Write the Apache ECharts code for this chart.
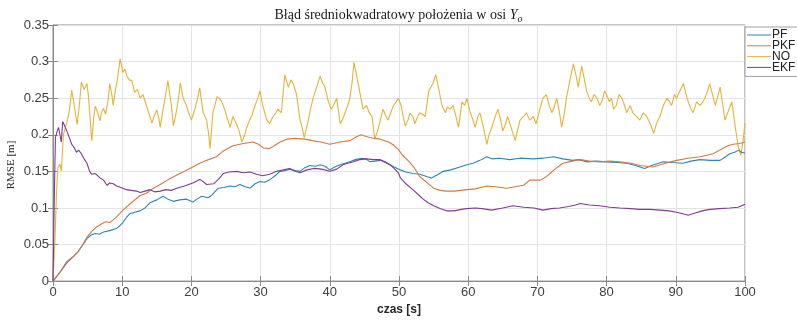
<!DOCTYPE html>
<html>
<head>
<meta charset="utf-8">
<script src="https://cdn.jsdelivr.net/npm/echarts@6/dist/echarts.min.js"></script>
<style>html,body{margin:0;padding:0;background:#fff;}#c{width:797px;height:321px;}</style>
</head>
<body>
<div id="c"></div>
<script>
// ---- data ----
const seriesNames = ['PF', 'PKF', 'NO', 'EKF'];
const xTicks = [0, 10, 20, 30, 40, 50, 60, 70, 80, 90, 100];
const yTicks = [0, 0.05, 0.1, 0.15, 0.2, 0.25, 0.3, 0.35];

const pfT = [0,1,2,3,3.6,4.2,4.9,5.5,6.1,6.7,7.3,8.2,9.2,9.7,10.1,10.6,11.1,11.8,12.6,13.3,14,15,15.9,16.6,17.4,18.3,19.3,20.2,20.8,21.5,22.4,22.9,23.9,24.7,25.6,26.3,27,27.8,28.5,29.2,29.9,30.6,31.4,32.1,32.8,33.5,34.2,35,35.7,36.4,37.1,37.9,38.6,39.3,40,40.7,41.5,42.2,42.9,43.7,44.6,45.2,45.8,46.5,47.3,48,48.7,49.3,50.2,51,52,53,54,54.7,55.5,56.4,57.5,58.8,59.8,60.7,61.7,62.7,63.5,64.5,66,67.5,69.4,70.8,72.3,73.7,75.1,76,77.1,78.5,80,81.5,82.9,84.2,85.5,86.5,88.2,89.5,91,92.2,93.5,95,96.4,97.2,97.8,98.5,99.1,99.5,100];
const pfV = [0,0.012,0.025,0.034,0.04,0.048,0.058,0.063,0.065,0.064,0.067,0.069,0.072,0.076,0.08,0.087,0.092,0.094,0.096,0.1,0.107,0.111,0.116,0.112,0.109,0.111,0.112,0.108,0.112,0.116,0.114,0.117,0.127,0.128,0.13,0.129,0.132,0.129,0.127,0.133,0.136,0.135,0.139,0.144,0.15,0.151,0.153,0.151,0.15,0.155,0.158,0.157,0.159,0.157,0.152,0.156,0.159,0.161,0.163,0.166,0.168,0.167,0.163,0.164,0.165,0.162,0.159,0.156,0.152,0.149,0.147,0.146,0.143,0.141,0.145,0.15,0.152,0.156,0.159,0.161,0.165,0.17,0.167,0.168,0.166,0.168,0.167,0.168,0.17,0.167,0.165,0.166,0.163,0.164,0.163,0.162,0.161,0.158,0.154,0.158,0.163,0.162,0.161,0.164,0.166,0.165,0.165,0.17,0.174,0.176,0.179,0.176,0.175];

const pkfT = [0,1,2,3,3.6,4.3,4.9,5.6,6.3,7,7.6,8.2,9,10.1,11.2,12.6,13.5,14.5,15.5,16.7,17.9,19,20.2,21.2,22.2,23.6,24.5,26,27.5,28.9,29.7,30.4,31.2,31.8,32.8,33.8,35,36.4,37.5,38.7,40,41.5,42.9,43.8,44.5,45.5,46.5,47.3,48.5,49.2,49.9,50.5,51.5,52.2,53,54,55,55.9,56.9,58,59.8,61,62.7,64,65.6,66.8,68,68.9,70.4,71.2,71.8,72.8,73.7,75,76.2,77.5,79,80.5,81.9,83.5,84.8,86.7,88.5,90.1,91.8,93.5,95.4,96.5,97.5,98.3,99.2,100];
const pkfV = [0,0.012,0.027,0.034,0.04,0.05,0.06,0.068,0.074,0.078,0.081,0.08,0.086,0.097,0.106,0.117,0.12,0.127,0.132,0.139,0.145,0.15,0.156,0.161,0.165,0.17,0.177,0.185,0.188,0.19,0.187,0.182,0.181,0.184,0.19,0.194,0.195,0.194,0.192,0.19,0.187,0.19,0.192,0.197,0.2,0.197,0.195,0.194,0.19,0.186,0.18,0.172,0.163,0.155,0.143,0.135,0.127,0.124,0.123,0.123,0.125,0.126,0.13,0.129,0.127,0.129,0.131,0.138,0.138,0.142,0.147,0.155,0.161,0.164,0.166,0.164,0.163,0.164,0.163,0.161,0.158,0.156,0.161,0.165,0.168,0.17,0.174,0.18,0.185,0.187,0.188,0.19];

const noT = [0,0.3,0.5,0.7,1.0,1.2,1.5,1.8,2.1,2.4,2.7,3.0,3.3,3.5,3.8,4.1,4.5,4.9,5.1,5.3,5.6,5.9,6.1,6.4,6.8,7.0,7.3,7.6,8.0,8.2,8.5,8.7,9.0,9.3,9.7,10.1,10.4,10.7,11.0,11.4,11.8,12.2,12.6,13.0,13.5,13.9,14.3,14.6,15.0,15.3,15.5,15.9,16.2,16.6,17.1,17.4,17.9,18.2,18.4,18.8,19.3,19.6,20.0,20.5,20.9,21.2,21.7,22.2,22.5,22.7,23.1,23.4,23.7,24.0,24.4,24.8,25.1,25.6,26.0,26.5,26.9,27.3,27.7,28.0,28.4,28.7,29.2,29.6,29.9,30.3,30.9,31.3,31.8,32.2,32.5,33.0,33.5,34.0,34.4,34.7,35.2,35.7,36.0,36.3,36.9,37.2,37.6,38.1,38.6,39.0,39.3,39.8,40.2,40.5,41.0,41.5,41.8,42.2,42.6,42.9,43.2,43.5,44.1,44.5,44.8,45.3,45.7,46.1,46.5,46.9,47.3,47.7,48.0,48.4,48.8,49.2,49.6,49.9,50.3,50.6,50.9,51.3,51.6,52.0,52.3,52.7,53.0,53.4,53.8,54.3,54.6,54.9,55.3,55.8,56.2,56.7,57.0,57.4,57.8,58.1,58.6,59.1,59.5,59.8,60.3,60.7,61.0,61.4,61.7,62.2,62.7,63.0,63.4,63.9,64.3,64.7,65.0,65.4,65.7,66.2,66.8,67.1,67.5,68.0,68.4,68.9,69.4,69.8,70.1,70.5,70.8,71.3,71.7,72.1,72.5,72.8,73.2,73.5,73.9,74.2,74.7,75.2,75.6,75.9,76.4,76.8,77.1,77.5,77.8,78.2,78.6,79.0,79.3,79.7,80.0,80.4,80.7,81.0,81.4,81.8,82.2,82.6,82.9,83.4,83.8,84.3,84.8,85.3,85.8,86.3,86.8,87.2,87.7,88.2,88.7,89.1,89.4,89.8,90.1,90.6,91.1,91.5,91.8,92.2,92.5,93.0,93.5,93.9,94.2,94.6,94.9,95.3,95.7,96.0,96.4,96.8,97.1,97.5,98.1,98.6,99.0,99.4,99.7,100];
const noV = [0,0.06,0.12,0.155,0.16,0.15,0.2,0.21,0.22,0.235,0.261,0.245,0.225,0.214,0.24,0.272,0.262,0.27,0.255,0.23,0.192,0.225,0.239,0.232,0.219,0.23,0.236,0.228,0.25,0.27,0.255,0.24,0.26,0.275,0.304,0.285,0.29,0.28,0.275,0.274,0.258,0.262,0.25,0.255,0.24,0.228,0.216,0.225,0.234,0.222,0.21,0.235,0.25,0.274,0.24,0.212,0.235,0.255,0.271,0.25,0.24,0.23,0.22,0.235,0.25,0.264,0.23,0.22,0.2,0.181,0.23,0.24,0.252,0.25,0.245,0.235,0.225,0.21,0.225,0.215,0.205,0.19,0.2,0.21,0.22,0.225,0.24,0.25,0.26,0.24,0.22,0.215,0.225,0.23,0.235,0.23,0.282,0.265,0.275,0.27,0.255,0.22,0.21,0.196,0.22,0.235,0.25,0.265,0.28,0.27,0.265,0.245,0.235,0.24,0.25,0.215,0.22,0.23,0.24,0.25,0.27,0.299,0.27,0.25,0.235,0.24,0.23,0.225,0.194,0.205,0.22,0.235,0.228,0.22,0.23,0.24,0.245,0.25,0.24,0.225,0.212,0.22,0.23,0.225,0.215,0.225,0.23,0.228,0.225,0.26,0.265,0.27,0.282,0.26,0.24,0.23,0.238,0.235,0.24,0.23,0.21,0.245,0.24,0.25,0.23,0.22,0.21,0.225,0.23,0.21,0.187,0.2,0.21,0.225,0.235,0.22,0.205,0.215,0.225,0.21,0.192,0.205,0.22,0.225,0.23,0.22,0.225,0.215,0.225,0.24,0.25,0.255,0.24,0.23,0.24,0.25,0.23,0.21,0.23,0.25,0.275,0.297,0.28,0.265,0.294,0.275,0.26,0.25,0.245,0.255,0.25,0.24,0.245,0.26,0.255,0.245,0.25,0.235,0.24,0.255,0.25,0.24,0.23,0.24,0.23,0.225,0.22,0.23,0.225,0.215,0.202,0.215,0.225,0.24,0.25,0.245,0.24,0.255,0.25,0.26,0.27,0.255,0.245,0.235,0.23,0.245,0.24,0.245,0.25,0.26,0.27,0.255,0.24,0.25,0.265,0.24,0.22,0.23,0.245,0.21,0.185,0.172,0.19,0.216];

const ekfT = [0,0.2,0.35,0.6,0.8,1.0,1.2,1.4,1.7,2.0,2.4,2.7,3.1,3.4,3.7,4.1,4.5,4.9,5.3,5.6,6.1,6.8,7.3,7.8,8.2,8.7,9.2,10.1,10.6,11.3,12.1,12.6,13.3,14,14.7,15.5,16.3,17.1,17.9,19,20.2,21.2,21.7,22.2,23.2,24,24.6,25.5,26.5,27.5,28.5,29.4,30.3,31.3,32.3,33.3,34.2,35,35.7,36.7,37.7,38.8,40,41,41.9,42.6,43.4,44.3,45.3,46.3,47.3,48,48.7,49.3,49.9,50.2,51,52,52.8,53.5,54.2,55,56,56.9,58,59,59.8,61,62,63.4,65,66.5,68,69.5,70.8,72,73.2,74.5,75.5,76.2,77.5,79,80.5,81.9,83.5,84.8,86.3,87.7,89,90.1,91,91.8,92.8,93.8,94.9,96.3,97.8,99,100];
const ekfV = [0,0.12,0.196,0.205,0.21,0.2,0.19,0.218,0.212,0.205,0.195,0.187,0.182,0.176,0.179,0.174,0.167,0.161,0.15,0.146,0.147,0.141,0.138,0.131,0.134,0.133,0.13,0.127,0.125,0.124,0.123,0.121,0.123,0.125,0.122,0.123,0.125,0.124,0.127,0.13,0.134,0.139,0.136,0.132,0.133,0.14,0.147,0.149,0.15,0.148,0.149,0.146,0.144,0.146,0.15,0.152,0.154,0.15,0.148,0.152,0.154,0.153,0.15,0.153,0.159,0.161,0.163,0.166,0.167,0.166,0.166,0.163,0.159,0.154,0.148,0.141,0.133,0.125,0.118,0.112,0.107,0.103,0.099,0.096,0.096,0.098,0.099,0.1,0.099,0.097,0.1,0.103,0.101,0.1,0.097,0.099,0.1,0.102,0.104,0.106,0.104,0.103,0.101,0.1,0.099,0.098,0.098,0.097,0.096,0.094,0.092,0.09,0.093,0.096,0.098,0.099,0.1,0.101,0.105];

const colors = ['#2e85b5', '#d07a45', '#e3b43a', '#7e3d90'];

// ---- chart ----
function pairs(t, v) { return t.map((x, i) => [x, v[i]]); }
const seriesData = [pairs(pfT, pfV), pairs(pkfT, pkfV), pairs(noT, noV), pairs(ekfT, ekfV)];
const drawOrder = [2, 0, 1, 3];

const chart = echarts.init(document.getElementById('c'), null, { renderer: 'canvas' });
const axisCol = '#8a8a8a';
const labelCol = '#404040';
const sans = 'Liberation Sans, Arial, sans-serif';
const serif = 'Liberation Serif, Times New Roman, serif';

chart.setOption({
  animation: false,
  backgroundColor: '#ffffff',
  color: colors,
  grid: { left: 53, right: 52, top: 25, bottom: 34, show: true, borderColor: axisCol, borderWidth: 1, backgroundColor: '#fff' },
  title: {
    text: '{a|Błąd średniokwadratowy położenia w osi }{b|Y}{c|o}',
    left: 'center', top: 2,
    textStyle: {
      fontWeight: 'normal',
      rich: {
        a: { fontFamily: serif, fontSize: 14, fontWeight: 'normal', color: '#1a1a1a' },
        b: { fontFamily: serif, fontSize: 14, fontWeight: 'normal', fontStyle: 'italic', color: '#1a1a1a' },
        c: { fontFamily: serif, fontSize: 10, fontWeight: 'normal', fontStyle: 'italic', color: '#1a1a1a', padding: [7, 0, 0, 0] }
      }
    }
  },
  legend: {
    data: seriesNames,
    orient: 'vertical',
    left: 745, top: 27,
    itemWidth: 24, itemHeight: 10, itemGap: -1.2,
    padding: [2, 6, 3, 2],
    backgroundColor: '#fff',
    borderColor: '#a0a0a0', borderWidth: 1, borderRadius: 0,
    textStyle: { fontFamily: sans, fontSize: 12, color: '#222', padding: [0, 0, 0, -4] },
    icon: 'path://M0,5 L24,5 L24,6 L0,6 Z'
  },
  xAxis: [{
    type: 'value', min: xTicks[0], max: xTicks[xTicks.length - 1], interval: xTicks[1] - xTicks[0],
    position: 'bottom',
    name: 'czas [s]', nameLocation: 'middle', nameGap: 20,
    nameTextStyle: { fontFamily: sans, fontSize: 12, fontWeight: 'bold', color: '#262626' },
    axisLine: { show: true, lineStyle: { color: axisCol } },
    axisTick: { show: true, inside: true, length: 5, lineStyle: { color: axisCol } },
    axisLabel: { fontFamily: sans, fontSize: 13, color: labelCol, margin: 5 },
    splitLine: { show: true, lineStyle: { color: '#e4e4e4', width: 1 } }
  }, {
    type: 'value', min: xTicks[0], max: xTicks[xTicks.length - 1], interval: xTicks[1] - xTicks[0],
    position: 'top',
    axisLine: { show: true, lineStyle: { color: axisCol } },
    axisTick: { show: true, inside: true, length: 5, lineStyle: { color: axisCol } },
    axisLabel: { show: false }, splitLine: { show: false }
  }],
  yAxis: [{
    type: 'value', min: yTicks[0], max: yTicks[yTicks.length - 1], interval: yTicks[1] - yTicks[0],
    position: 'left',
    axisLine: { show: true, lineStyle: { color: axisCol } },
    axisTick: { show: true, inside: true, length: 5, lineStyle: { color: axisCol } },
    axisLabel: { fontFamily: sans, fontSize: 13, color: labelCol, margin: 4,
      formatter: v => String(parseFloat(v.toFixed(2))) },
    splitLine: { show: true, lineStyle: { color: '#e4e4e4', width: 1 } }
  }, {
    type: 'value', min: yTicks[0], max: yTicks[yTicks.length - 1], interval: yTicks[1] - yTicks[0],
    position: 'right',
    axisLine: { show: true, lineStyle: { color: axisCol } },
    axisTick: { show: true, inside: true, length: 5, lineStyle: { color: axisCol } },
    axisLabel: { show: false }, splitLine: { show: false }
  }],
  graphic: [{
    type: 'text', x: 6, y: 165, rotation: Math.PI / 2,
    style: { text: 'RMSE [m]', fontFamily: serif, fontSize: 11, fill: '#262626', align: 'center', verticalAlign: 'top' }
  }],
  series: drawOrder.map(i => ({
    name: seriesNames[i], type: 'line', data: seriesData[i],
    xAxisIndex: 0, yAxisIndex: 0,
    showSymbol: false, symbol: 'none', smooth: false,
    lineStyle: { width: 1.1, color: colors[i] },
    itemStyle: { color: colors[i] },
    z: 2
  }))
});
</script>
</body>
</html>
